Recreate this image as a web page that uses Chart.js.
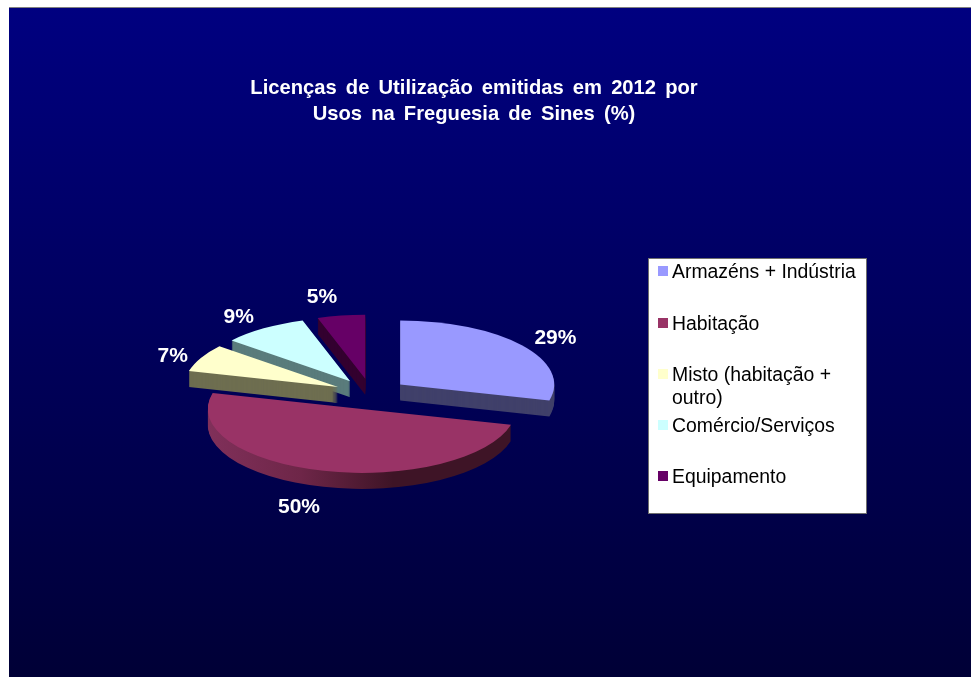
<!DOCTYPE html>
<html>
<head>
<meta charset="utf-8">
<style>
html,body{margin:0;padding:0;background:#fff;}
#wrap{position:absolute;left:0;top:0;width:971px;height:677px;}
</style>
<script src="https://cdn.jsdelivr.net/npm/chart.js@4"></script>
</head>
<body>
<div id="wrap"><canvas id="c" width="971" height="677"></canvas></div>
<script>
const categories = ['Armazéns + Indústria','Habitação',['Misto (habitação +','outro)'],'Comércio/Serviços','Equipamento'];
const values = [29,50,7,9,5];
const titleLines = ['Licenças de Utilização emitidas em 2012 por','Usos na Freguesia de Sines (%)'];
const sliceColors = ['#9999FF','#993366','#FFFFCC','#CCFFFF','#660066'];
const sideColors = ['#40406A','#5E2040','#6E6E50','#5A7C7C','#33002F'];
const labelNudge = [[-3,5],[-13,18],[13,7],[1,5],[-12,1]];
const legendRows = [271,323,374,425,476];

const FONT = '"Liberation Sans", Arial, sans-serif';
const PIE = {cx:371, cy:394, rx:154, ry:64, depth:16, explode:0.24};

function pieTransform(ctx, chart){
  const R = chart.getDatasetMeta(0).controller.outerRadius;
  const a = chart.chartArea;
  ctx.translate(PIE.cx, PIE.cy);
  ctx.scale(PIE.rx/R, PIE.ry/R);
  ctx.translate(-(a.left+a.right)/2, -(a.top+a.bottom)/2);
}

const scenePlugin = {
  id:'scene',
  afterDatasetsUpdate(chart){
    // Explode each slice along its own mid-angle.
    const meta = chart.getDatasetMeta(0);
    const R = meta.controller.outerRadius;
    const a = chart.chartArea;
    meta.data.forEach(el=>{
      const mid = (el.startAngle+el.endAngle)/2;
      el.x = (a.left+a.right)/2 + Math.cos(mid)*PIE.explode*R;
      el.y = (a.top+a.bottom)/2 + Math.sin(mid)*PIE.explode*R;
    });
  },
  beforeDraw(chart){
    const ctx = chart.ctx;
    ctx.save();
    const g = ctx.createLinearGradient(0,7,0,677);
    g.addColorStop(0,'#000080');
    g.addColorStop(1,'#000036');
    ctx.fillStyle = g;
    ctx.fillRect(9,7,962,670);
    ctx.fillStyle = '#808080';
    ctx.fillRect(9,7,962,1);
    ctx.restore();
    ctx.wordSpacing = '3.5px';
  },
  beforeDatasetsDraw(chart){
    const ctx = chart.ctx;
    ctx.wordSpacing = '0px';
    const meta = chart.getDatasetMeta(0);
    ctx.save();
    [4,3,2,0,1].forEach(i=>{
      const el = meta.data[i];
      const opts = el.options;
      const saved = opts.backgroundColor;
      let fill = sideColors[i];
      if(i===1){
        const g = ctx.createLinearGradient(210,0,510,0);
        g.addColorStop(0,'#80305A');
        g.addColorStop(0.5,'#6E2648');
        g.addColorStop(1,'#3E1426');
        fill = g;
      }
      opts.backgroundColor = fill;
      for(let k=PIE.depth;k>=1;k--){
        ctx.save();
        ctx.translate(0,k);
        pieTransform(ctx,chart);
        el.draw(ctx);
        ctx.restore();
      }
      opts.backgroundColor = saved;
    });
    ctx.restore();
    ctx.save();
    pieTransform(ctx,chart);
  },
  afterDatasetsDraw(chart){
    const ctx = chart.ctx;
    ctx.restore();
    const meta = chart.getDatasetMeta(0);
    const total = values.reduce((a,b)=>a+b,0);
    ctx.save();
    ctx.font = 'bold 21px '+FONT;
    ctx.fillStyle = '#FFFFFF';
    ctx.textAlign = 'center';
    ctx.textBaseline = 'middle';
    meta.data.forEach((el,i)=>{
      const mid = (el.startAngle+el.endAngle)/2;
      const dx = Math.cos(mid), dy = Math.sin(mid);
      const f = PIE.explode+1.3;
      const x = PIE.cx + dx*PIE.rx*f + labelNudge[i][0];
      const y = PIE.cy + dy*PIE.ry*f + labelNudge[i][1];
      ctx.fillText(Math.round(values[i]/total*100)+'%', x, y);
    });
    ctx.restore();
    // legend panel
    ctx.save();
    ctx.fillStyle = '#FFFFFF';
    ctx.fillRect(648,258,219,256);
    ctx.strokeStyle = '#6E6E6E';
    ctx.lineWidth = 1;
    ctx.strokeRect(648.5,258.5,218,255);
    ctx.font = '19.4px '+FONT;
    ctx.textBaseline = 'middle';
    ctx.textAlign = 'left';
    categories.forEach((cat,i)=>{
      const y = legendRows[i];
      ctx.fillStyle = sliceColors[i];
      ctx.fillRect(658,y-5,10,10);
      ctx.fillStyle = '#000000';
      const lines = Array.isArray(cat)?cat:[cat];
      lines.forEach((t,j)=>ctx.fillText(t,672,y+2+j*23));
    });
    ctx.restore();
  }
};

new Chart(document.getElementById('c'),{
  type:'pie',
  data:{labels:categories.map(c=>Array.isArray(c)?c.join(' '):c),
    datasets:[{data:values,backgroundColor:sliceColors,borderWidth:0,hoverOffset:0,offset:0}]},
  plugins:[scenePlugin],
  options:{
    responsive:false,
    animation:false,
    events:[],
    layout:{padding:{top:75,right:23,bottom:40,left:0}},
    plugins:{
      legend:{display:false},
      tooltip:{enabled:false},
      title:{display:true,text:titleLines,color:'#FFFFFF',
        font:{family:FONT,size:20.2,weight:'bold',lineHeight:1.29},
        padding:{top:0,bottom:10}}
    }
  }
});
</script>
</body>
</html>
